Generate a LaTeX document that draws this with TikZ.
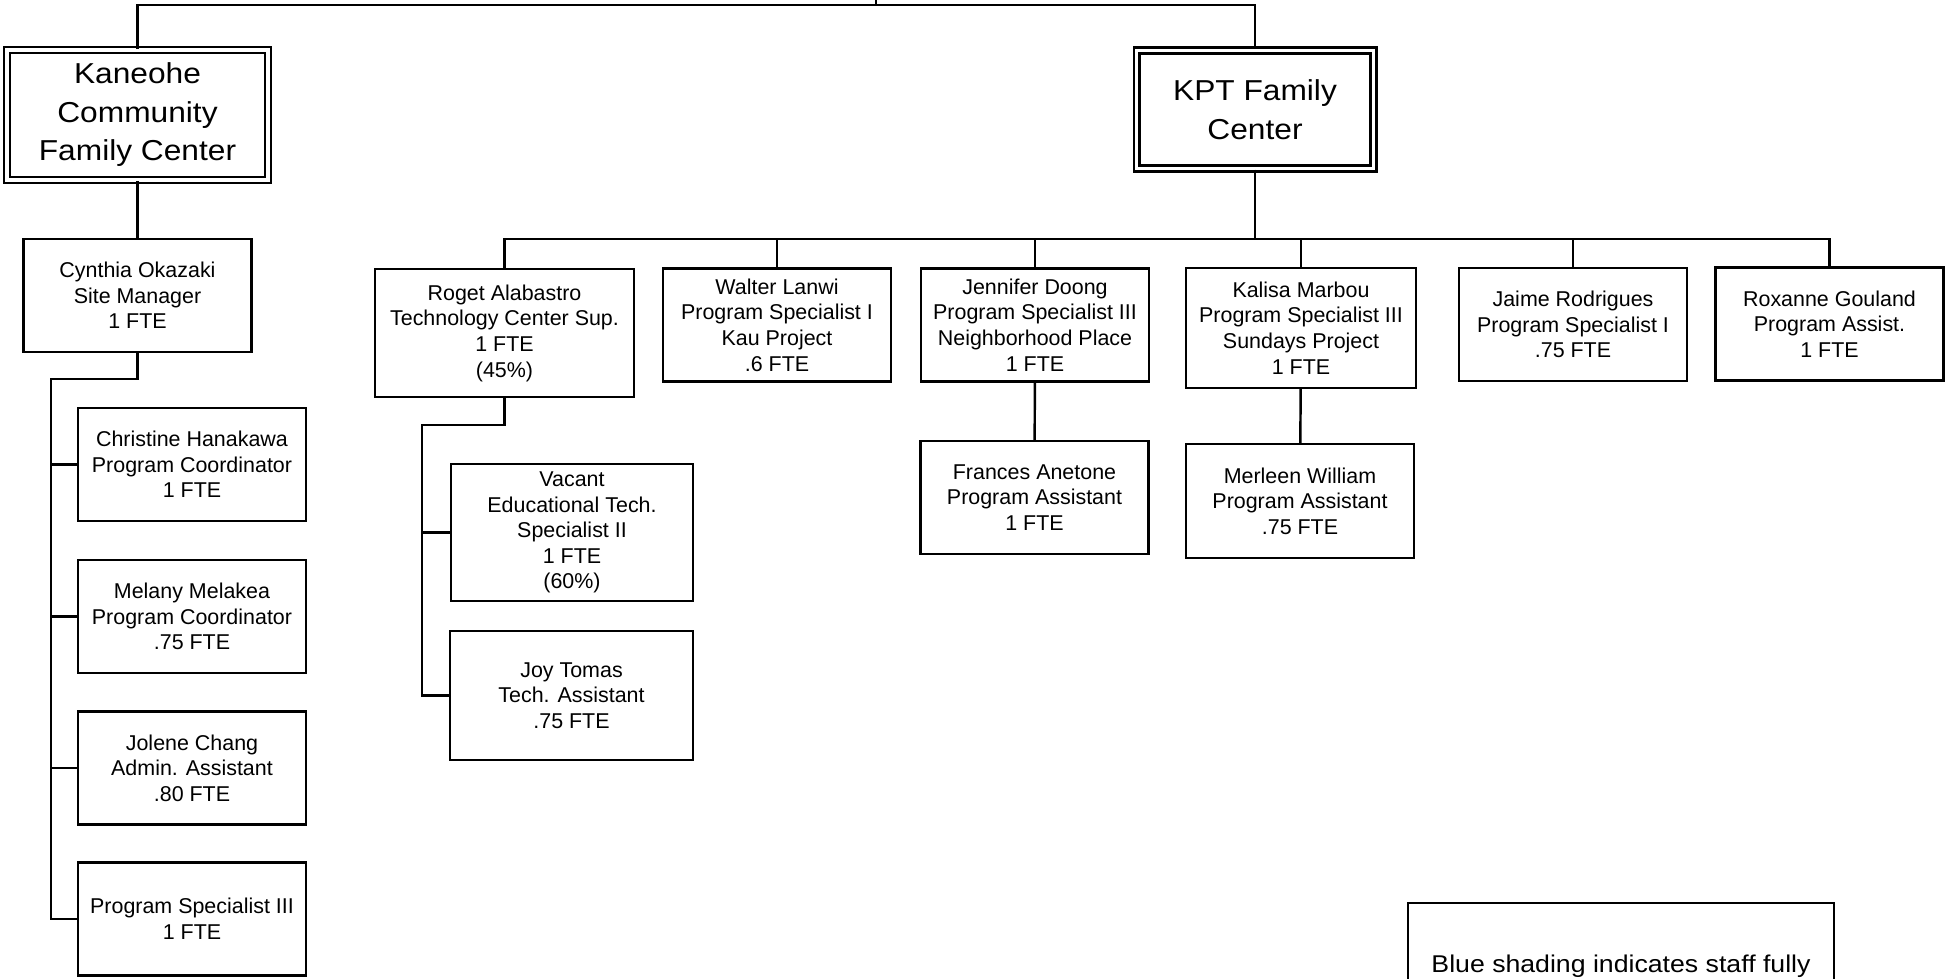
\documentclass[tikz,border=0pt]{standalone}
\usepackage{fontspec}
\setmainfont{Liberation Sans}
\newfontfamily\titlefont[FakeStretch=1.1]{Liberation Sans}
\usepackage{tikz}
\usetikzlibrary{positioning}
\tikzstyle{staff} = [rectangle, draw, line width=1.4pt, align=center, minimum width=4.56cm, minimum height=2.26cm, font=\fontsize{12.2}{14.6}\selectfont]
\tikzstyle{site} = [rectangle, draw, double, double distance=2.2pt, line width=1.2pt, align=center, font=\titlefont\fontsize{16.4}{21.9}\selectfont]
\tikzstyle{legend} = [rectangle, draw, line width=1.4pt, minimum width=8.52cm, inner ysep=0pt, text height=1.38cm, text depth=3cm, font=\titlefont\fontsize{13.8}{15}\selectfont]
\tikzstyle{line} = [draw, line width=1.4pt]

\begin{document}
\begin{tikzpicture}[x=0.02cm, y=-0.02cm]
			\fill [white] (0,0) rectangle (1946,979);
			\clip (0,0) rectangle (1946,979);

			\node [site, minimum width=5.22cm, minimum height=2.59cm] (kaneohe) at (137.5,115) {Kaneohe\\Community\\Family Center};
			\node [site, minimum width=4.74cm, minimum height=2.36cm] (kpt) at (1255,109.5) {KPT Family\\Center};

			\node [staff] (cynthia) at (137.5,295.5) {Cynthia Okazaki\\Site Manager\\1 FTE};
			\node [staff] (christine) at (192,464.5) {Christine Hanakawa\\Program Coordinator\\1 FTE};
			\node [staff] (melany) at (192,616.5) {Melany Melakea\\Program Coordinator\\.75 FTE};
			\node [staff] (jolene) at (192,768) {Jolene Chang\\Admin. Assistant\\.80 FTE};
			\node [staff] (ps3) at (192,919) {Program Specialist III\\1 FTE};

			\node [staff, minimum width=5.18cm, minimum height=2.56cm] (roget) at (504.5,333) {Roget Alabastro\\Technology Center Sup.\\1 FTE\\(45\%)};
			\node [staff] (walter) at (777,325) {Walter Lanwi\\Program Specialist I\\Kau Project\\.6 FTE};
			\node [staff] (jennifer) at (1035,325) {Jennifer Doong\\Program Specialist III\\Neighborhood Place\\1 FTE};
			\node [staff, minimum width=4.6cm, minimum height=2.4cm] (kalisa) at (1301,328) {Kalisa Marbou\\Program Specialist III\\Sundays Project\\1 FTE};
			\node [staff] (jaime) at (1573,324.5) {Jaime Rodrigues\\Program Specialist I\\.75 FTE};
			\node [staff] (roxanne) at (1829.5,324) {Roxanne Gouland\\Program Assist.\\1 FTE};

			\node [staff, minimum width=4.84cm, minimum height=2.74cm] (vacant) at (572,532.5) {Vacant\\Educational Tech.\\Specialist II\\1 FTE\\(60\%)};
			\node [staff, minimum width=4.86cm, minimum height=2.58cm] (joy) at (571.5,695.5) {Joy Tomas\\Tech. Assistant\\.75 FTE};
			\node [staff] (frances) at (1034.5,497.5) {Frances Anetone\\Program Assistant\\1 FTE};
			\node [staff, minimum height=2.28cm] (merleen) at (1300,501) {Merleen William\\Program Assistant\\.75 FTE};

			\node [legend, anchor=base] (key) at (1621,972) {Blue shading indicates staff fully};

			\coordinate (parent) at (876,-10);
			\coordinate (topbus) at (876,5);
			\coordinate (kbend) at (51,379);
			\coordinate (bus) at (1255,239);
			\coordinate (rbend) at (422,425);

			\path [line] (parent) -- (topbus);
			\path [line] (kaneohe.north) |- (topbus) -| (kpt.north);
			\path [line] (kaneohe) -- (cynthia);
			\path [line] (cynthia.south) |- (kbend) |- (ps3.west);
			\foreach \who in {christine, melany, jolene}
				\path [line] (\who.west) -- (\who.west -| kbend);
			\path [line] (kpt) -- (bus);
			\path [line] (roget.north) |- (bus) -| (roxanne.north);
			\foreach \who in {walter, jennifer, kalisa, jaime}
				\path [line] (\who.north) -- (\who.north |- bus);
			\path [line] (roget.south) |- (rbend) |- (joy.west);
			\path [line] (vacant.west) -- (vacant.west -| rbend);
			\path [line] (jennifer) -- (frances);
			\path [line] (kalisa) -- (merleen);
		\end{tikzpicture}
\end{document}
